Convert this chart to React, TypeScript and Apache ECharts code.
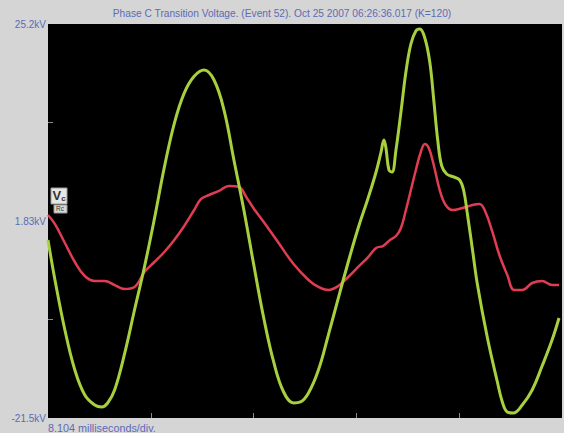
import React, { useEffect, useRef } from "react";
import * as echarts from "echarts";

const TITLE = "Phase C Transition Voltage. (Event 52). Oct 25 2007 06:26:36.017 (K=120)";
const X_NOTE = "8.104 milliseconds/div.";
const V_MIN = -21.5;
const V_MAX = 25.2;
const V_LABELS = [25.2, 1.83, -21.5];
const V_TICKS = [13.53, -9.83];
const MS_PER_DIV = 8.104;
const T_TICKS = [8.104, 16.208, 24.312, 32.416];

// green trace (ms, kV)
const T_GREEN = [0, 0.549, 1.332, 2.116, 2.9, 3.684, 4.232, 4.703, 5.251, 6.035, 6.819, 7.602, 8.386, 9.17, 9.954, 10.737, 11.521, 12.305, 13.089, 13.872, 14.656, 15.44, 16.224, 17.007, 17.791, 18.575, 19.359, 19.907, 20.534, 21.318, 22.102, 22.886, 23.669, 24.453, 25.237, 25.864, 26.256, 26.483, 26.64, 26.875, 27.118, 27.431, 27.823, 28.215, 28.607, 28.999, 29.313, 29.705, 30.096, 30.41, 30.723, 31.037, 31.428, 31.977, 32.447, 32.761, 33.074, 33.466, 33.858, 34.642, 35.426, 35.817, 36.209, 36.68, 37.385, 38.169, 38.952, 39.736, 40.285];
const V_GREEN = [-0.4, -5.14, -11.07, -15.81, -18.77, -19.96, -20.2, -19.72, -18.18, -13.9, -8.7, -3.6, 2.1, 8.2, 13.4, 17.0, 19.0, 19.75, 18.56, 15.01, 9.08, 3.15, -3.37, -9.65, -14.86, -18.42, -19.72, -19.6, -18.54, -15.81, -11.66, -7.28, -3.01, 1.02, 4.58, 7.66, 10.03, 11.45, 10.5, 7.9, 7.66, 10.27, 14.77, 19.51, 22.83, 24.37, 24.61, 23.54, 20.7, 16.19, 11.45, 8.37, 7.42, 7.07, 6.71, 5.52, 2.56, -1.59, -5.74, -12.02, -17.23, -19.6, -20.79, -20.91, -19.96, -18.18, -15.34, -12.26, -9.65];

// red trace (ms, kV)
const T_RED = [0, 0.549, 1.332, 2.116, 2.9, 3.684, 4.467, 5.251, 6.035, 6.819, 7.602, 8.386, 9.17, 9.954, 10.737, 11.521, 12.07, 12.697, 13.481, 14.264, 15.048, 15.675, 16.302, 17.007, 18.183, 19.359, 20.534, 21.318, 22.102, 22.886, 23.669, 24.453, 25.237, 25.864, 26.413, 26.961, 27.431, 27.823, 28.215, 28.607, 28.999, 29.391, 29.705, 30.018, 30.41, 30.88, 31.35, 31.899, 32.683, 33.466, 34.015, 34.485, 35.034, 35.582, 36.209, 36.758, 37.385, 38.169, 38.952, 39.736, 40.285];
const V_RED = [2.56, 1.49, -0.76, -3.01, -4.67, -5.26, -5.26, -5.74, -6.21, -5.97, -4.2, -3.01, -1.82, -0.4, 1.26, 3.15, 4.46, 4.93, 5.41, 6.0, 5.88, 4.58, 3.15, 1.73, -0.76, -3.25, -5.14, -5.97, -6.33, -5.85, -4.79, -3.6, -2.42, -1.35, -1.11, -0.4, 0.07, 1.02, 3.15, 5.52, 7.9, 10.03, 10.98, 10.5, 8.49, 5.52, 3.75, 3.15, 3.39, 3.75, 3.87, 2.92, 0.55, -2.18, -4.55, -6.33, -6.33, -5.5, -5.26, -5.74, -5.74];

const TEXT_COLOR = "#5b6bb6";
const FONT = "Liberation Sans, Arial, sans-serif";

export default function App() {
  const ref = useRef<HTMLDivElement>(null);
  useEffect(() => {
    if (!ref.current) return;
    const chart = echarts.init(ref.current, null, { renderer: "svg" });
    const green = T_GREEN.map((t, i) => [t, V_GREEN[i]]);
    const red = T_RED.map((t, i) => [t, V_RED[i]]);
    chart.setOption({
      animation: false,
      backgroundColor: "#d5d5d5",
      title: {
        text: TITLE,
        left: "center",
        top: 8,
        padding: 0,
        textStyle: { color: TEXT_COLOR, fontSize: 10.2, fontWeight: "normal", fontFamily: FONT },
      },
      grid: {
        left: 48,
        top: 24,
        right: 2,
        bottom: 15,
        show: true,
        backgroundColor: "#000000",
        borderWidth: 0,
      },
      xAxis: {
        type: "value",
        min: 0,
        max: MS_PER_DIV * 5,
        axisLine: { show: false, onZero: false },
        splitLine: { show: false },
        axisLabel: { show: false },
        axisTick: { show: true, inside: true, length: 5, customValues: T_TICKS, lineStyle: { color: "#8a8a8a", width: 1 } },
      },
      yAxis: {
        type: "value",
        min: V_MIN,
        max: V_MAX,
        axisLine: { show: false, onZero: false },
        splitLine: { show: false },
        axisTick: { show: true, inside: true, length: 5, customValues: V_TICKS, lineStyle: { color: "#8a8a8a", width: 1 } },
        axisLabel: {
          show: true,
          customValues: V_LABELS,
          margin: 2,
          formatter: (v: number) => `${v}kV`,
          color: TEXT_COLOR,
          fontSize: 10,
          fontFamily: FONT,
        },
      },
      graphic: [
        {
          type: "text",
          left: 48,
          top: 422,
          style: { text: X_NOTE, fill: TEXT_COLOR, fontSize: 10.8, fontFamily: FONT },
        },
        {
          type: "rect",
          shape: { x: 51, y: 188, width: 16, height: 16 },
          style: { fill: "#e6e6e6", stroke: "#9a9a9a", lineWidth: 1 },
          z: 100,
        },
        {
          type: "text",
          x: 52.5,
          y: 189,
          style: {
            text: "{a|V}{b|c}",
            rich: {
              a: { fontSize: 13, fill: "#333", fontFamily: FONT, fontWeight: "bold" },
              b: { fontSize: 8, fill: "#333", fontFamily: FONT, fontWeight: "bold", padding: [5, 0, 0, 0] },
            },
          },
          z: 101,
        },
        {
          type: "rect",
          shape: { x: 54, y: 205, width: 13, height: 8 },
          style: { fill: "#d8d8d8", stroke: "#9a9a9a", lineWidth: 1 },
          z: 100,
        },
        {
          type: "text",
          x: 56,
          y: 205,
          style: { text: "Rc", fontSize: 6.5, fill: "#333", fontFamily: FONT },
          z: 101,
        },
      ],
      series: [
        {
          type: "line",
          data: red,
          showSymbol: false,
          smooth: 0.4,
          lineStyle: { color: "#e03c52", width: 2.5 },
          z: 2,
        },
        {
          type: "line",
          data: green,
          showSymbol: false,
          smooth: 0.4,
          lineStyle: { color: "#a8d03e", width: 3 },
          z: 3,
        },
      ],
    });
    return () => chart.dispose();
  }, []);
  return <div ref={ref} style={{ position: "fixed", left: 0, top: 0, width: 564, height: 433 }} />;
}
